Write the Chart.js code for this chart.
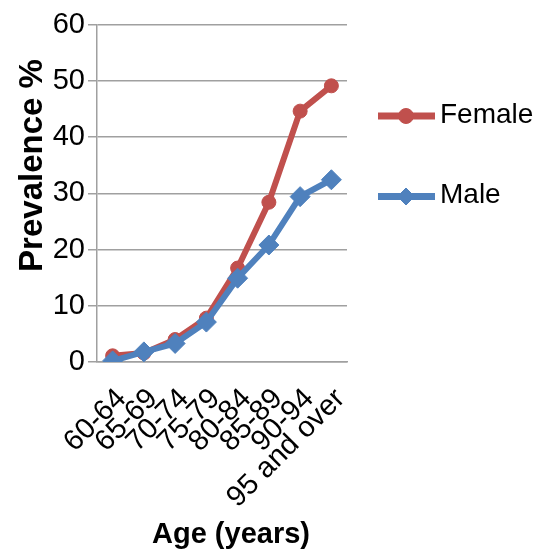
<!DOCTYPE html>
<html>
<head>
<meta charset="utf-8">
<title>Prevalence by age group</title>
<script src="https://cdn.jsdelivr.net/npm/chart.js@4.4.1/dist/chart.umd.min.js"></script>
<style>
  html, body { margin: 0; padding: 0; background: #ffffff; }
  canvas { display: block; }
</style>
</head>
<body>
<canvas id="chart" width="537" height="555"></canvas>
<script>
// Age groups and prevalence (%) by sex
const ageGroups = ['60-64', '65-69', '70-74', '75-79', '80-84', '85-89', '90-94', '95 and over'];
const femalePrevalence = [1.1, 1.6, 4.0, 7.8, 16.7, 28.4, 44.6, 49.1];
const malePrevalence = [0.2, 1.8, 3.3, 7.1, 14.9, 20.8, 29.4, 32.4];
const yTickValues = [0, 10, 20, 30, 40, 50, 60];
const seriesNames = ['Female', 'Male'];
const yAxisTitle = 'Prevalence %';
const xAxisTitle = 'Age (years)';

const RED = '#C0504D';
const BLUE = '#4F81BD';
const GRID = '#a0a0a0';
const SANS = "'Liberation Sans', Arial, sans-serif";

// Marker helper: uses Chart.js point drawing when available
function drawMarker(ctx, style, radius, x, y) {
  if (Chart.helpers && Chart.helpers.drawPoint) {
    Chart.helpers.drawPoint(ctx, { pointStyle: style, radius: radius, rotation: 0, borderWidth: 1 }, x, y);
    return;
  }
  ctx.beginPath();
  if (style === 'circle') {
    ctx.arc(x, y, radius, 0, Math.PI * 2);
  } else {
    ctx.moveTo(x - radius, y); ctx.lineTo(x, y - radius);
    ctx.lineTo(x + radius, y); ctx.lineTo(x, y + radius);
    ctx.closePath();
  }
  ctx.fill(); ctx.stroke();
}

// Axis titles and the line-with-marker legend at the right of the plot
const sideAnnotations = {
  id: 'sideAnnotations',
  afterDraw(chart) {
    const { ctx, chartArea: area } = chart;

    ctx.save();
    ctx.fillStyle = '#000000';
    ctx.font = 'bold 33px ' + SANS;
    ctx.textAlign = 'center';
    ctx.textBaseline = 'alphabetic';
    ctx.translate(42, area.top + 141);
    ctx.rotate(-Math.PI / 2);
    ctx.fillText(yAxisTitle, 0, 0);
    ctx.restore();

    ctx.save();
    ctx.fillStyle = '#000000';
    ctx.font = 'bold 29px ' + SANS;
    ctx.textAlign = 'center';
    ctx.textBaseline = 'alphabetic';
    ctx.fillText(xAxisTitle, area.left + 134, 543);
    ctx.restore();

    chart.data.datasets.forEach((ds, i) => {
      const x0 = area.right + 31;
      const y = 116 + 80.5 * i;
      ctx.save();
      ctx.strokeStyle = ds.borderColor;
      ctx.lineWidth = 7;
      ctx.lineCap = 'butt';
      ctx.beginPath();
      ctx.moveTo(x0, y);
      ctx.lineTo(x0 + 57, y);
      ctx.stroke();
      ctx.fillStyle = ds.borderColor;
      ctx.lineWidth = 1;
      drawMarker(ctx, ds.pointStyle, ds.pointStyle === 'circle' ? 7.5 : 8.5, x0 + 28, y);
      ctx.fillStyle = '#000000';
      ctx.font = '28px ' + SANS;
      ctx.textAlign = 'left';
      ctx.textBaseline = 'middle';
      ctx.fillText(ds.label, x0 + 62, y - 1);
      ctx.restore();
    });
  }
};

new Chart(document.getElementById('chart'), {
  type: 'line',
  data: {
    labels: ageGroups,
    datasets: [
      {
        label: seriesNames[0],
        data: femalePrevalence,
        borderColor: RED,
        backgroundColor: RED,
        borderWidth: 6,
        pointStyle: 'circle',
        pointRadius: 7,
        pointBorderWidth: 1,
        pointBackgroundColor: RED,
        pointBorderColor: RED,
        tension: 0,
        order: 1
      },
      {
        label: seriesNames[1],
        data: malePrevalence,
        borderColor: BLUE,
        backgroundColor: BLUE,
        borderWidth: 6,
        pointStyle: 'rectRot',
        pointRadius: 10,
        pointBorderWidth: 1,
        pointBackgroundColor: BLUE,
        pointBorderColor: BLUE,
        tension: 0,
        order: 0
      }
    ]
  },
  options: {
    responsive: false,
    animation: false,
    devicePixelRatio: 1,
    layout: { padding: { top: 24.5, right: 190, bottom: 0, left: 0 } },
    plugins: {
      legend: { display: false },
      tooltip: { enabled: false }
    },
    scales: {
      x: {
        type: 'category',
        offset: true,
        grid: { display: false, drawTicks: false, tickLength: 0 },
        border: { display: true, color: GRID, width: 1.5 },
        ticks: {
          color: '#000000',
          font: { family: SANS, size: 29 },
          minRotation: 45,
          maxRotation: 45,
          autoSkip: false,
          labelOffset: 9,
          padding: 20
        },
        afterFit(scale) { scale.height = 193; }
      },
      y: {
        min: 0,
        max: 60,
        afterBuildTicks(scale) { scale.ticks = yTickValues.map(v => ({ value: v })); },
        grid: { color: GRID, lineWidth: 1.5, tickLength: 9, drawTicks: true },
        border: { display: true, color: GRID, width: 1.5 },
        ticks: {
          color: '#000000',
          font: { family: SANS, size: 29 },
          padding: 3
        },
        afterFit(scale) { scale.width = 97; }
      }
    }
  },
  plugins: [sideAnnotations]
});
</script>
</body>
</html>
